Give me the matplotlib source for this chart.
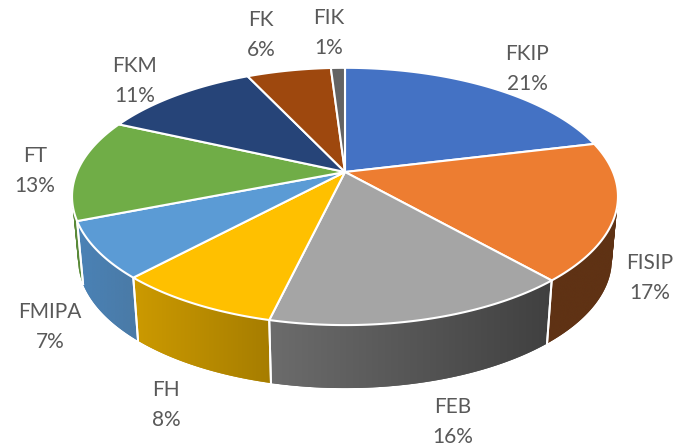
import numpy as np
import matplotlib
matplotlib.use("Agg")
import matplotlib.pyplot as plt
from matplotlib.patches import PathPatch
from matplotlib.path import Path

# === DATA ===
faculties = ["FKIP", "FISIP", "FEB", "FH", "FMIPA", "FT", "FKM", "FK", "FIK"]
percent_labels = ["21%", "17%", "16%", "8%", "7%", "13%", "11%", "6%", "1%"]
# slice sizes as measured on the picture
shares = [21.2, 17.3, 15.2, 8.2, 7.1, 12.8, 11.2, 6.0, 1.0]

# === STYLE ===
top_colors = ["#4472C4", "#ED7D31", "#A5A5A5", "#FFC000", "#5B9BD5", "#70AD47", "#264478", "#9E480E", "#636363"]
wall_left = ["#2F4F88", "#5F3214", "#6C6C6C", "#CC9A00", "#4A82B6", "#5A8A39", "#1E3660", "#7E390B", "#4F4F4F"]
wall_right = ["#2F4F88", "#5F3214", "#404040", "#A67D00", "#4A7AA6", "#5A8A39", "#1E3660", "#7E390B", "#4F4F4F"]
label_xy = [(527, 69), (650, 278), (453, 422), (166, 405), (50, 327), (35, 171), (135, 81), (261, 35), (329, 33)]
TEXT_COLOR = "#595959"

# pie geometry in pixels, front of the disc is bigger (perspective)
CX = 345
TOP_CY, TOP_A, TOP_B = 172, 268, 124
BOT_CY, BOT_A, BOT_B = 235, 262, 124
PERSP = 0.19


def project(angle, cy, a, b):
    # angle in degrees, clockwise from 12 o'clock
    x = np.sin(np.radians(angle))
    y = -np.cos(np.radians(angle))
    w = 1 - PERSP * y
    return CX + a * x / w, cy + b * y / w


def wall_path(tx, ty, bx, by):
    # union of quads so the silhouette between the two rims is filled too
    quads = []
    for j in range(len(tx) - 1):
        q = np.array([[tx[j], ty[j]], [tx[j + 1], ty[j + 1]], [bx[j + 1], by[j + 1]], [bx[j], by[j]], [tx[j], ty[j]]])
        area = np.sum(q[:-1, 0] * q[1:, 1] - q[1:, 0] * q[:-1, 1])
        if area < 0:
            q = q[::-1]
        quads.append(Path(q, closed=True))
    return Path.make_compound_path(*quads)


fig = plt.figure(figsize=(6.8, 4.47), dpi=100)
ax = fig.add_axes([0, 0, 1, 1])

edges = np.concatenate([[0], np.cumsum(shares)]) * 360.0 / sum(shares)
slices = list(range(len(shares)))

# walls first, back to front
order = sorted(slices, key=lambda i: -np.cos(np.radians((edges[i] + edges[i + 1]) / 2)))
for n, i in enumerate(order):
    z = 2 + n * 0.01
    t = np.linspace(edges[i], edges[i + 1], 61)
    tx, ty = project(t, TOP_CY, TOP_A, TOP_B)
    bx, by = project(t, BOT_CY, BOT_A, BOT_B)
    left = matplotlib.colors.to_rgb(wall_left[i])
    right = matplotlib.colors.to_rgb(wall_right[i])
    shape = PathPatch(wall_path(tx, ty, bx, by), facecolor=np.mean([left, right], axis=0), edgecolor="none", zorder=z)
    ax.add_patch(shape)
    # gradient runs left to right on screen
    ramp = np.linspace(left, right, 256)[None, :, :]
    img = ax.imshow(ramp, extent=(min(tx.min(), bx.min()), max(tx.max(), bx.max()),
                                  max(ty.max(), by.max()), min(ty.min(), by.min())),
                    aspect="auto", zorder=z + 0.001, interpolation="bilinear")
    img.set_clip_path(shape)
    # white seams on the visible walls
    for e in (edges[i], edges[i + 1]):
        if -np.cos(np.radians(e)) > 0:
            x0, y0 = project(e, TOP_CY, TOP_A, TOP_B)
            x1, y1 = project(e, BOT_CY, BOT_A, BOT_B)
            ax.plot([x0, x1], [y0, y1], color="white", lw=1.4, zorder=3)

# top face
for i in slices:
    t = np.linspace(edges[i], edges[i + 1], 81)
    px, py = project(t, TOP_CY, TOP_A, TOP_B)
    ax.fill(np.r_[CX, px], np.r_[TOP_CY, py], facecolor=top_colors[i], edgecolor="white",
            lw=1.5, joinstyle="round", zorder=4)

for name, pct, (lx, ly) in zip(faculties, percent_labels, label_xy):
    ax.text(lx, ly, f"{name}\n{pct}", ha="center", va="center", color=TEXT_COLOR,
            fontsize=15, family=["Lato", "DejaVu Sans"], linespacing=1.62, zorder=5)

ax.set_xlim(0, 680)
ax.set_ylim(447, 0)
ax.axis("off")

fig.savefig("out.png", dpi=100)
